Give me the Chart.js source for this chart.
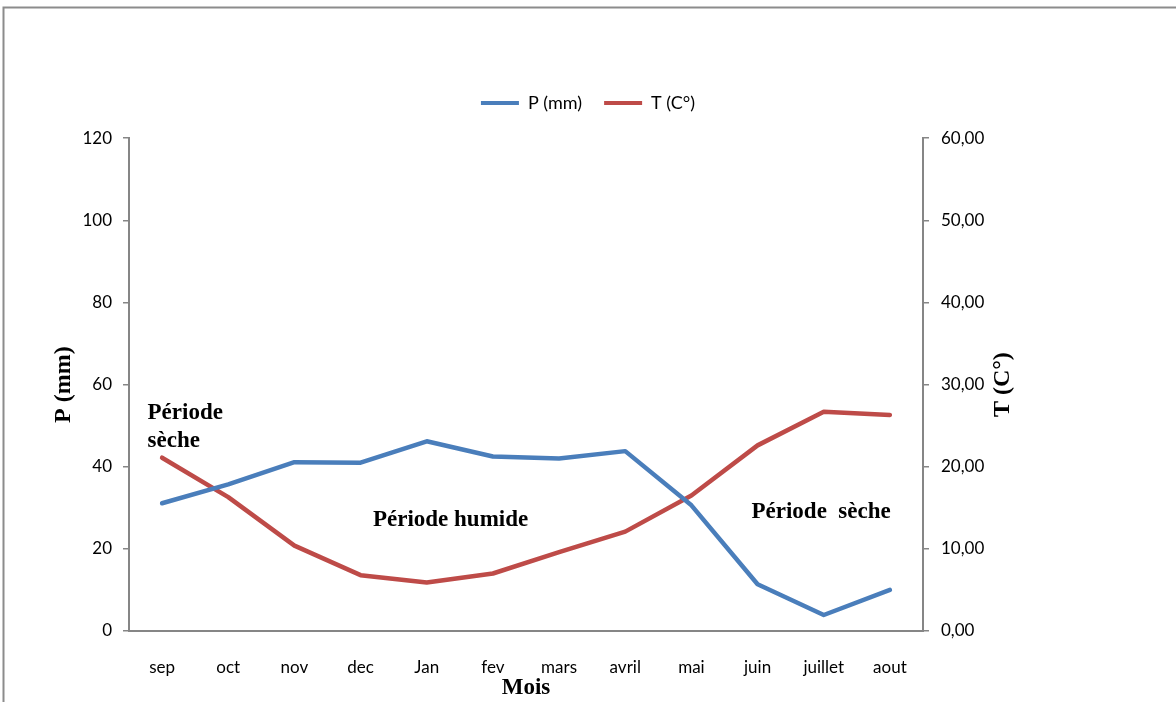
<!DOCTYPE html>
<html>
<head>
<meta charset="utf-8">
<script src="https://cdn.jsdelivr.net/npm/chart.js@4/dist/chart.umd.min.js"></script>
<style>
  html, body { margin: 0; padding: 0; background: #ffffff; }
  #wrap { width: 1176px; height: 702px; position: relative; }
</style>
</head>
<body>
<div id="wrap"><canvas id="c" width="1176" height="702"></canvas></div>
<script>
// Monthly climate data (hydrological year, September to August)
const months = ['sep', 'oct', 'nov', 'dec', 'Jan', 'fev', 'mars', 'avril', 'mai', 'juin', 'juillet', 'aout'];
const precipitation = [31.1, 35.7, 41.1, 41.0, 46.2, 42.5, 42.0, 43.8, 30.6, 11.4, 3.9, 10.0];   // P (mm)
const temperature = [21.1, 16.3, 10.4, 6.8, 5.9, 7.0, 9.6, 12.1, 16.5, 22.6, 26.7, 26.3];       // T (C°)

// Axis ranges and tick steps
const pAxis = { min: 0, max: 120, step: 20 };
const tAxis = { min: 0, max: 60, step: 10 };

// Period labels placed in data space (x = month index, y = P value)
const periodLabels = [
  { text: 'Période', x: -0.22, y: 53.0, align: 'left' },
  { text: 'sèche', x: -0.22, y: 46.2, align: 'left' },
  { text: 'Période humide', x: 4.36, y: 27.0, align: 'center' },
  { text: 'Période  sèche', x: 9.96, y: 28.9, align: 'center' }
];

const BLUE = '#4A7EBB';
const RED = '#BE4B48';
const AXIS = '#868686';
const serifBold = 'bold 23px "Liberation Serif", "Times New Roman", serif';

// Frame around the figure, plus the bold annotations and the right axis title
const decorations = {
  id: 'decorations',
  beforeDraw(chart) {
    const ctx = chart.ctx;
    ctx.save();
    ctx.fillStyle = '#ffffff';
    ctx.fillRect(0, 0, chart.width, chart.height);
    ctx.strokeStyle = '#8c8c8c';
    ctx.lineWidth = 2;
    ctx.beginPath();
    ctx.moveTo(3.5, chart.height);
    ctx.lineTo(3.5, 7.5);
    ctx.lineTo(chart.width, 7.5);
    ctx.stroke();
    ctx.restore();
  },
  afterDraw(chart) {
    const ctx = chart.ctx;
    const x = chart.scales.x, y = chart.scales.y;
    const area = chart.chartArea;
    ctx.save();
    ctx.fillStyle = '#000000';
    ctx.font = serifBold;
    ctx.textBaseline = 'middle';
    periodLabels.forEach(l => {
      ctx.textAlign = l.align;
      ctx.fillText(l.text, x.getPixelForValue(l.x), y.getPixelForValue(l.y));
    });
    // Right axis title, reading bottom to top
    ctx.font = 'bold 24px "Liberation Serif", "Times New Roman", serif';
    ctx.translate(area.right + 80, (area.top + area.bottom) / 2);
    ctx.rotate(-Math.PI / 2);
    ctx.textAlign = 'center';
    ctx.fillText('T (C°)', 0, 0);
    ctx.restore();
  }
};

const tickFont = { family: 'Lato, "Open Sans", sans-serif', size: 17 };

new Chart(document.getElementById('c'), {
  type: 'line',
  data: {
    labels: months,
    datasets: [
      {
        label: 'P (mm)',
        data: precipitation,
        yAxisID: 'y',
        borderColor: BLUE,
        backgroundColor: BLUE,
        borderWidth: 4.5,
        pointRadius: 0,
        tension: 0,
        borderJoinStyle: 'round',
        borderCapStyle: 'round'
      },
      {
        label: 'T (C°)',
        data: temperature,
        yAxisID: 'y2',
        borderColor: RED,
        backgroundColor: RED,
        borderWidth: 4.5,
        pointRadius: 0,
        tension: 0,
        borderJoinStyle: 'round',
        borderCapStyle: 'round'
      }
    ]
  },
  options: {
    responsive: false,
    animation: false,
    events: [],
    layout: { padding: { top: 72, left: 0, right: 0, bottom: 0 } },
    plugins: {
      legend: {
        position: 'top',
        labels: {
          font: { family: 'Lato, "Open Sans", sans-serif', size: 18 },
          color: '#000000',
          boxWidth: 38,
          boxHeight: 4,
          padding: 22,
          generateLabels(chart) {
            const items = Chart.defaults.plugins.legend.labels.generateLabels(chart);
            items.forEach(it => { it.lineWidth = 0; });
            return items;
          }
        }
      },
      // empty title used as a spacer between legend and plot
      title: {
        display: true,
        text: '',
        weight: 500,
        font: { size: 1 },
        padding: { top: 0, bottom: 15 }
      },
      tooltip: { enabled: false }
    },
    scales: {
      x: {
        type: 'category',
        offset: true,
        grid: { display: false },
        border: { display: true, color: AXIS, width: 2 },
        ticks: { font: tickFont, color: '#000000', padding: 18, maxRotation: 0, autoSkip: false },
        title: {
          display: true,
          text: 'Mois',
          color: '#000000',
          font: { family: '"Liberation Serif", "Times New Roman", serif', size: 23, weight: 'bold' },
          padding: { top: 0, bottom: 0 }
        },
        afterFit(scale) { scale.height = 71; }
      },
      y: {
        position: 'left',
        min: pAxis.min,
        max: pAxis.max,
        grid: { display: true, drawOnChartArea: false, drawTicks: true, tickLength: 6, color: AXIS, lineWidth: 1.5 },
        border: { display: true, color: AXIS, width: 2 },
        ticks: { stepSize: pAxis.step, font: tickFont, color: '#000000', padding: 11 },
        title: {
          display: true,
          text: 'P (mm)',
          color: '#000000',
          font: { family: '"Liberation Serif", "Times New Roman", serif', size: 24, weight: 'bold' },
          padding: { top: 49 }
        },
        afterFit(scale) { scale.width = 129; }
      },
      y2: {
        position: 'right',
        min: tAxis.min,
        max: tAxis.max,
        grid: { display: true, drawOnChartArea: false, drawTicks: true, tickLength: 6, color: AXIS, lineWidth: 1.5 },
        border: { display: true, color: AXIS, width: 2 },
        ticks: {
          stepSize: tAxis.step,
          font: tickFont,
          color: '#000000',
          padding: 12,
          callback: v => v.toFixed(2).replace('.', ',')
        },
        afterFit(scale) { scale.width = 253; }
      }
    }
  },
  plugins: [decorations]
});
</script>
</body>
</html>
